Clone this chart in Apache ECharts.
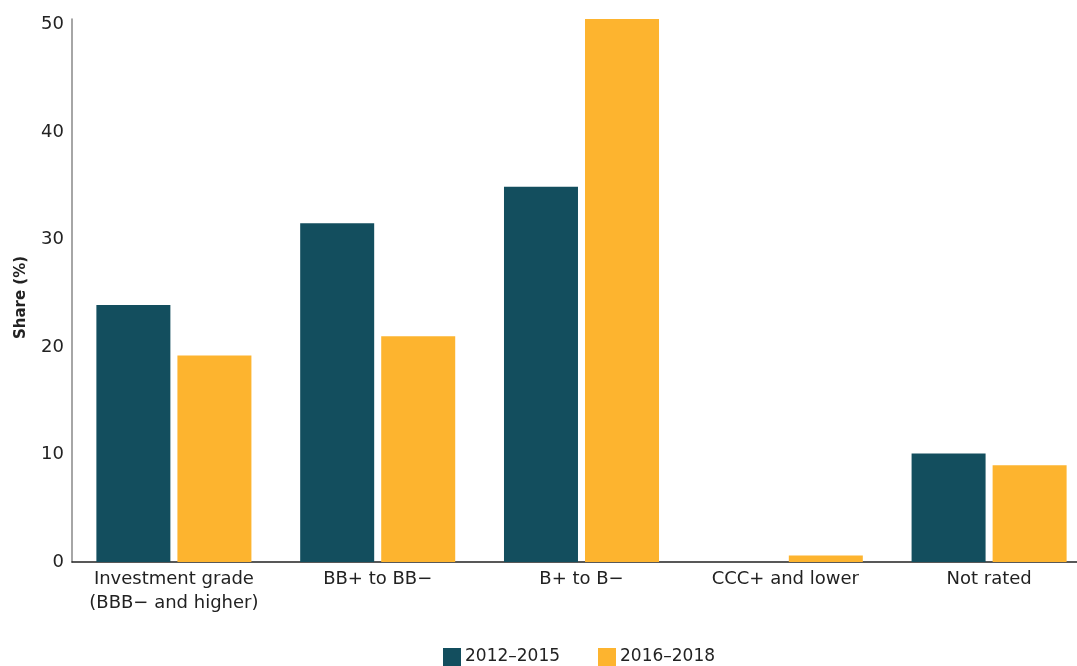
<!DOCTYPE html>
<html>
<head>
<meta charset="utf-8">
<script src="https://cdn.jsdelivr.net/npm/echarts@6/dist/echarts.min.js"></script>
<style>
  html, body { margin: 0; padding: 0; background: #fff; overflow: hidden; }
  /* the plot area runs a little past the right edge of the page */
  #chart { width: 1092px; height: 666px; }
</style>
</head>
<body>
<div id="chart"></div>
<script>
// Rating categories and share of issuance per period (%)
const categories = ['Investment grade\n(BBB\u2212 and higher)', 'BB+ to BB\u2212', 'B+ to B\u2212', 'CCC+ and lower', 'Not rated'];
const seriesNames = ['2012\u20132015', '2016\u20132018'];
const share2012to2015 = [23.9, 31.5, 34.9, 0, 10.1];
const share2016to2018 = [19.2, 21.0, 50.5, 0.6, 9.0];
const yTicks = [0, 10, 20, 30, 40, 50];

const FONT = '"DejaVu Sans", "Open Sans", sans-serif';
const TEXT = '#222222';

const chart = echarts.init(document.getElementById('chart'));
chart.setOption({
  animation: false,
  textStyle: { fontFamily: FONT },
  grid: { left: 72, right: 1, top: 19, bottom: 104, containLabel: false },
  legend: {
    bottom: 0,
    left: 443,
    padding: 0,
    itemWidth: 18,
    itemHeight: 18,
    itemGap: 38,
    icon: 'rect',
    textStyle: { fontFamily: FONT, fontSize: 17, color: TEXT, padding: [0, 0, 0, -1] },
    data: seriesNames
  },
  xAxis: {
    type: 'category',
    data: categories,
    axisTick: { show: false },
    axisLine: { lineStyle: { color: '#222', width: 1.5 } },
    axisLabel: { color: TEXT, fontSize: 18, fontFamily: FONT, lineHeight: 24, margin: 5, interval: 0 }
  },
  yAxis: {
    type: 'value',
    min: 0,
    max: 50.5,
    interval: 10,
    name: 'Share (%)',
    nameLocation: 'middle',
    nameGap: 43,
    nameTextStyle: { fontFamily: FONT, fontSize: 15, fontWeight: 'bold', color: TEXT, padding: [0, 14, 0, 0] },
    splitLine: { show: false },
    axisTick: { show: false },
    axisLine: { show: true, lineStyle: { color: '#888', width: 1.5 } },
    axisLabel: {
      color: TEXT, fontSize: 18, fontFamily: FONT, margin: 8,
      formatter: v => (yTicks.indexOf(v) >= 0 ? String(v) : '')
    }
  },
  series: [
    {
      name: seriesNames[0],
      type: 'bar',
      data: share2012to2015,
      barWidth: 74,
      barGap: '9.5%',
      itemStyle: { color: '#134E5E' }
    },
    {
      name: seriesNames[1],
      type: 'bar',
      data: share2016to2018,
      barWidth: 74,
      barGap: '9.5%',
      itemStyle: { color: '#FDB42F' }
    }
  ]
});
</script>
</body>
</html>
